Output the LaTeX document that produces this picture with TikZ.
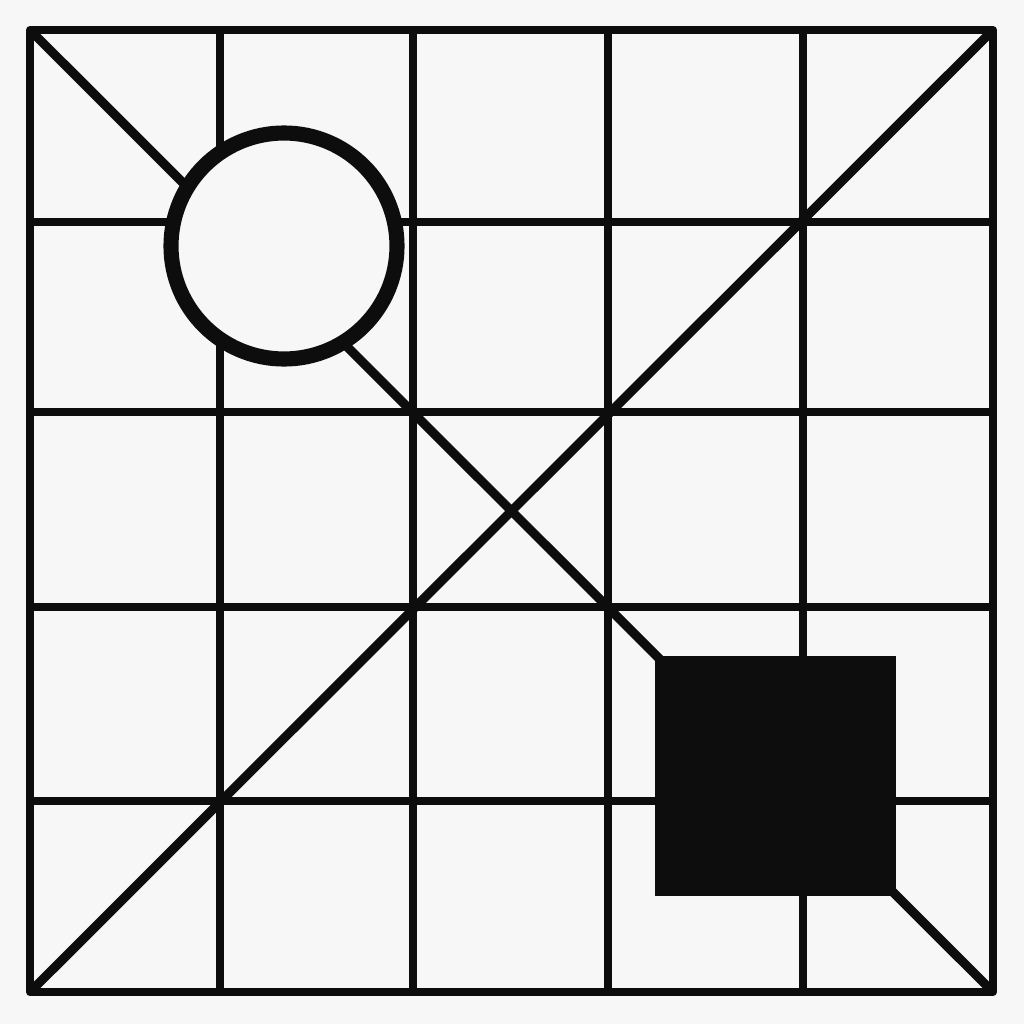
\documentclass[tikz,border=0pt]{standalone}
\begin{document}
\begin{tikzpicture}[x=0.01cm,y=-0.01cm,
  gridline/.style={line width=2pt,draw=black!95},
  border/.style={line width=2.3pt,draw=black!95,line join=round},
  diag/.style={line width=2.6pt,draw=black!95},
  ring/.style={line width=4.3pt,draw=black!95,fill=bgc},
  block/.style={fill=black!95}]
\definecolor{bgc}{HTML}{F7F7F7}
\fill[bgc] (0,0) rectangle (1024,1024);
\useasboundingbox (0,0) rectangle (1024,1024);
% grid
\foreach \x in {220,413,608,803} \draw[gridline] (\x,30) -- (\x,992);
\foreach \y in {222,412,607,801} \draw[gridline] (30,\y) -- (993,\y);
% diagonals
\draw[diag] (30,30) -- (993,992);
\draw[diag] (993,30) -- (30,992);
% border
\draw[border] (30,30) rectangle (993,992);
% circle
\draw[ring] (284,246) circle (113);
% filled square
\fill[block] (655,656) rectangle (896,896);
\end{tikzpicture}
\end{document}
